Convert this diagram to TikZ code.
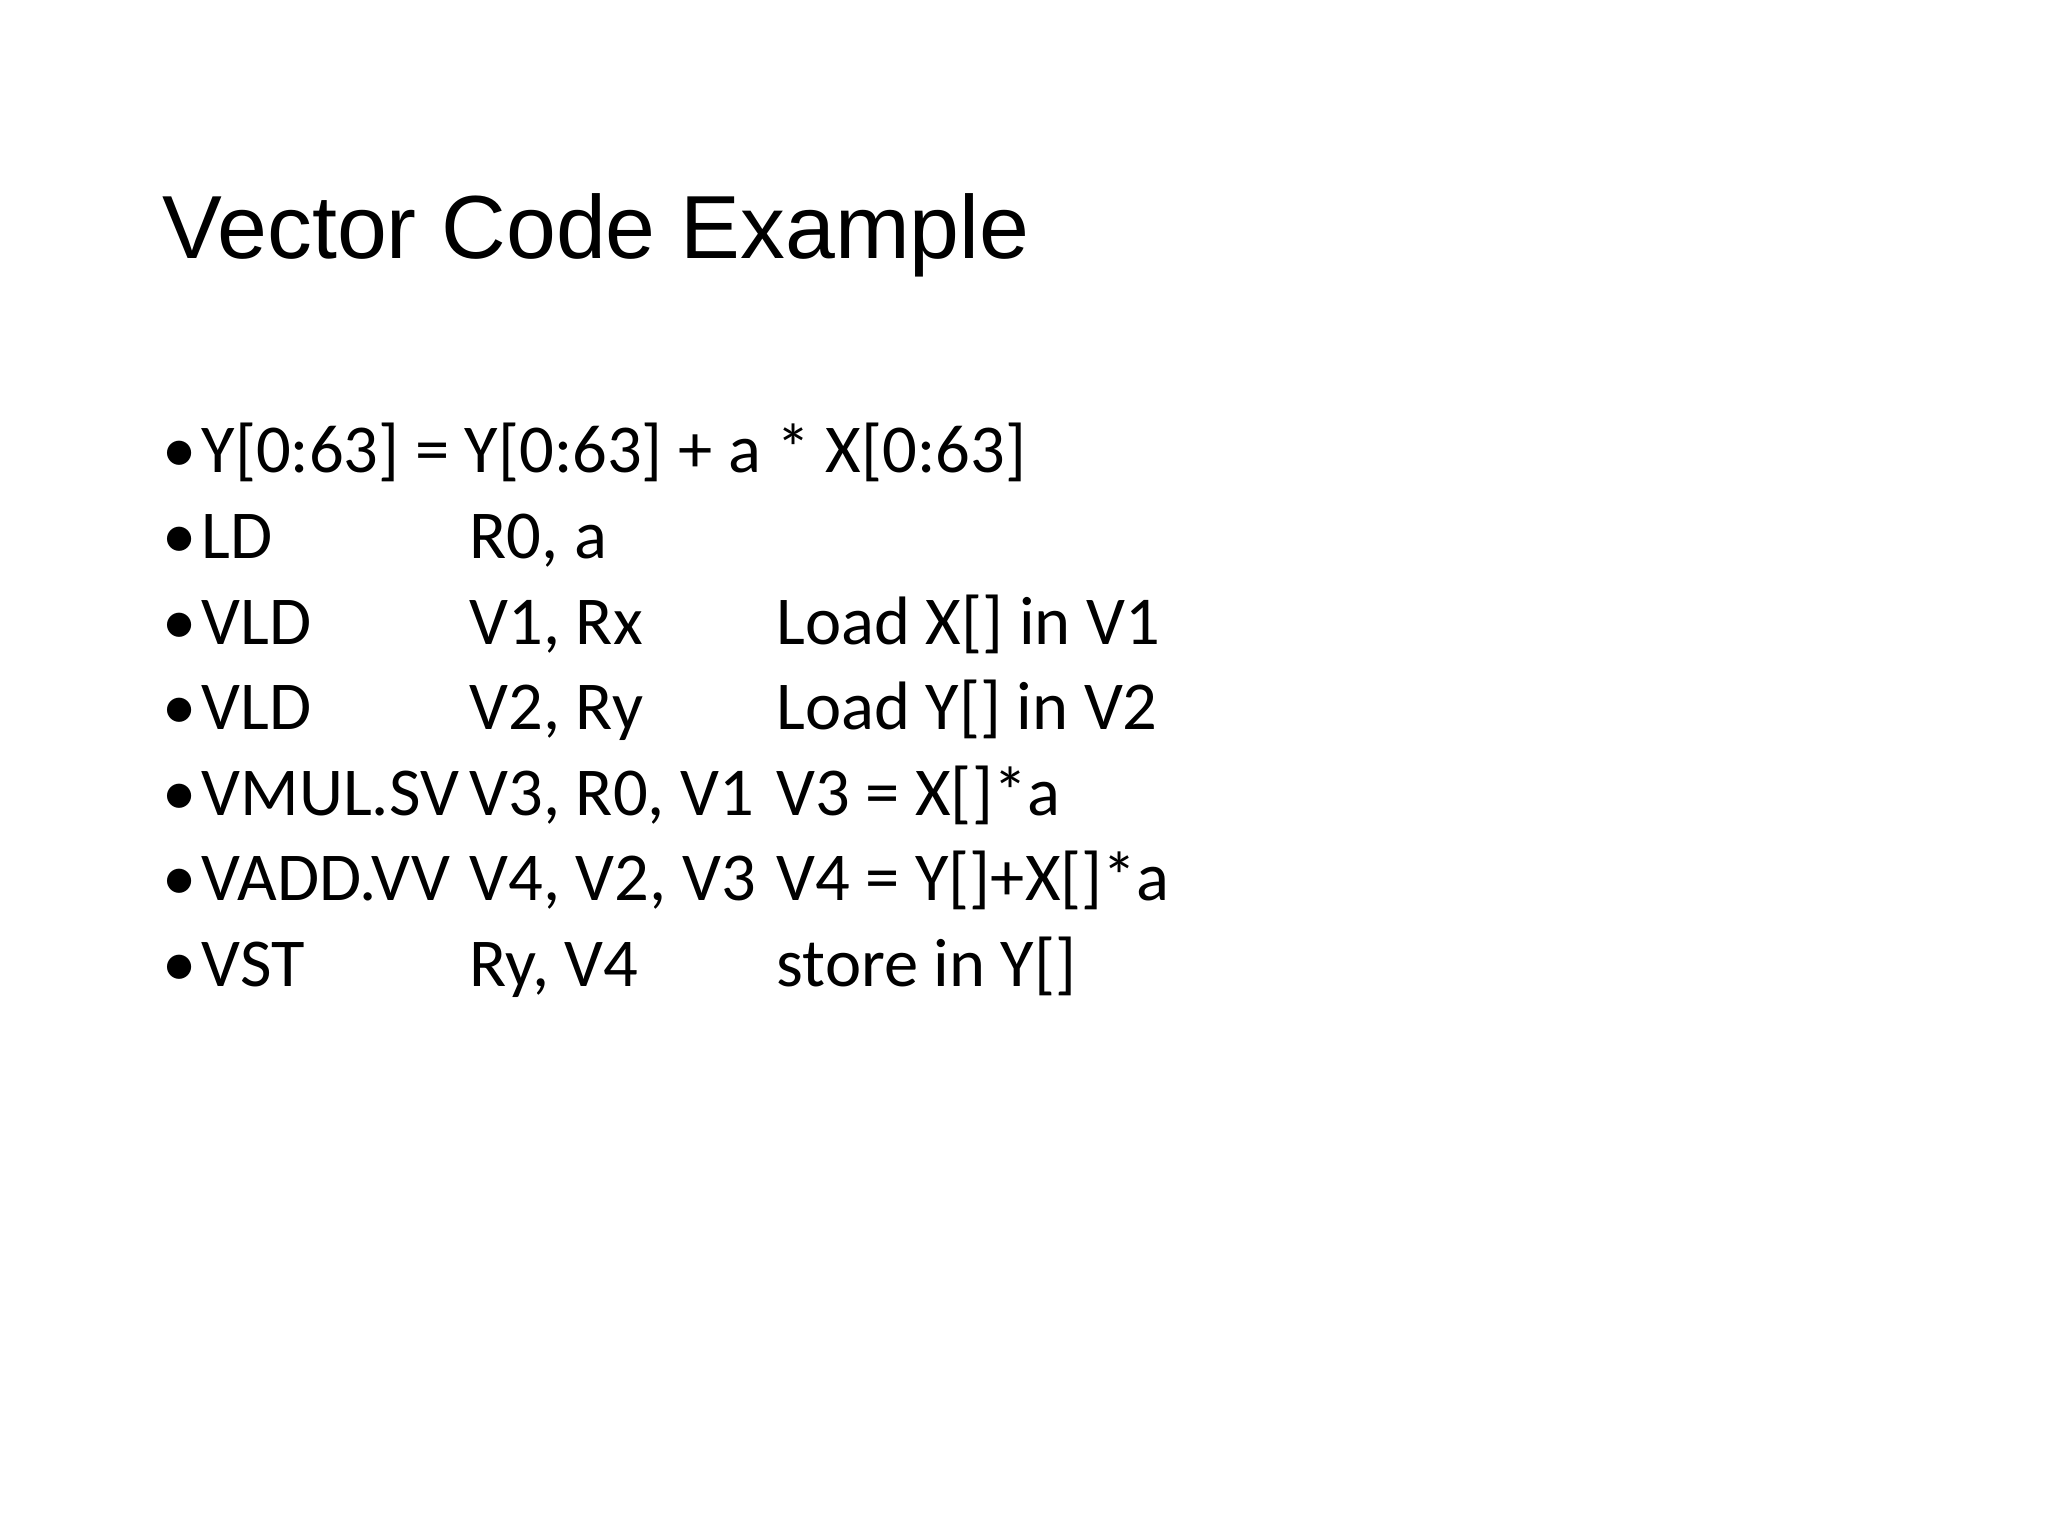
\documentclass[tikz,border=0pt]{standalone}
\usepackage{fontspec}
\setmainfont{Carlito}
\newfontfamily\titlefont{Liberation Sans}
\begin{document}
\begin{tikzpicture}[x=1cm,y=1cm,
  txt/.style={anchor=base west,inner sep=0pt,font=\fontsize{19.5}{23}\selectfont},
  ttl/.style={anchor=base west,inner sep=0pt,font=\titlefont\fontsize{25.5}{30}\selectfont}]
\useasboundingbox[fill=white] (0,0) rectangle (20.48,15.36);
\node[ttl] (title) at (1.62,15.36-2.59) {Vector Code Example};
\foreach \i/\a/\b/\c in {0/{Y[0:63] = Y[0:63] + a * X[0:63]}//,
  1/LD/{R0, a}/,
  2/VLD/{V1, Rx}/{Load X[] in V1},
  3/VLD/{V2, Ry}/{Load Y[] in V2},
  4/VMUL.SV/{V3, R0, V1}/{V3 = X[]*a},
  5/VADD.VV/{V4, V2, V3}/{V4 = Y[]+X[]*a},
  6/VST/{Ry, V4}/{store in Y[]}}{
  \pgfmathsetmacro{\yy}{15.36-4.73-0.856*\i}
  \node[txt] (bul\i) at (1.62,\yy) {•};
  \node[txt] (a\i) at (2.01,\yy) {\a};
  \node[txt] (b\i) at (4.69,\yy) {\b};
  \node[txt] (c\i) at (7.76,\yy) {\c};
}
\end{tikzpicture}
\end{document}
